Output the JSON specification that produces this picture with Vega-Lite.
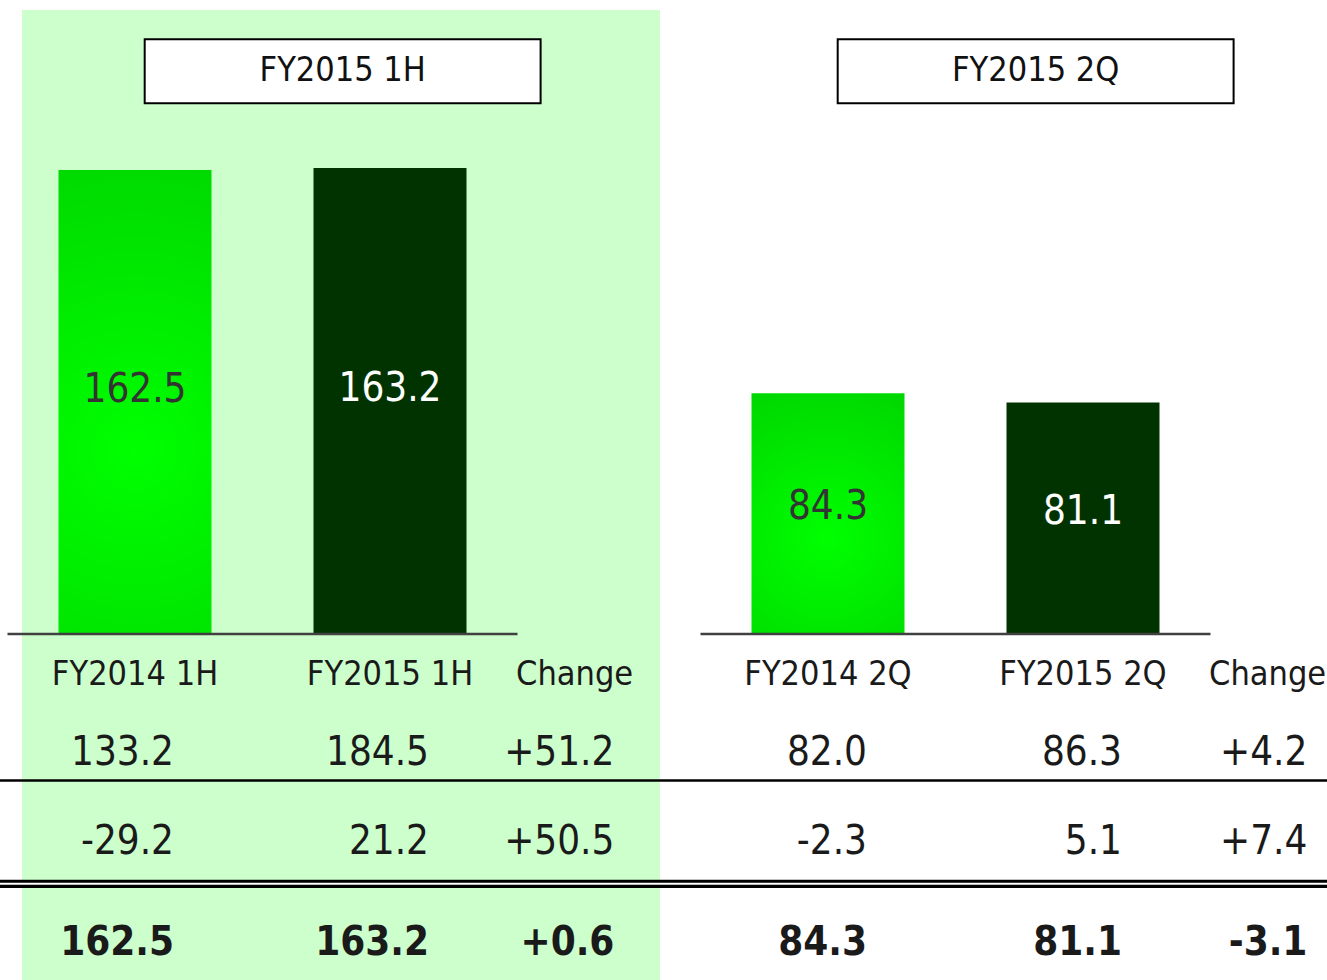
{
  "$schema": "https://vega.github.io/schema/vega-lite/v6.json",
  "width": 1327,
  "height": 980,
  "autosize": {"type": "fit", "contains": "padding"},
  "padding": 0,
  "background": "white",
  "config": {
    "view": {"stroke": null},
    "text": {"font": "DejaVu Sans Condensed, DejaVu Sans, sans-serif"}
  },
  "datasets": {
    "bars": [
      {"group": "1H", "col": "prev", "period": "FY2014 1H", "value": 162.5},
      {"group": "1H", "col": "curr", "period": "FY2015 1H", "value": 163.2},
      {"group": "2Q", "col": "prev", "period": "FY2014 2Q", "value": 84.3},
      {"group": "2Q", "col": "curr", "period": "FY2015 2Q", "value": 81.1}
    ],
    "heads": [
      {"group": "1H", "part": "head", "label": "FY2015 1H"},
      {"group": "2Q", "part": "head", "label": "FY2015 2Q"}
    ],
    "colheads": [
      {"group": "1H", "part": "cols", "col": "prev", "label": "FY2014 1H"},
      {"group": "1H", "part": "cols", "col": "curr", "label": "FY2015 1H"},
      {"group": "1H", "part": "cols", "col": "change", "label": "Change"},
      {"group": "2Q", "part": "cols", "col": "prev", "label": "FY2014 2Q"},
      {"group": "2Q", "part": "cols", "col": "curr", "label": "FY2015 2Q"},
      {"group": "2Q", "part": "cols", "col": "change", "label": "Change"}
    ],
    "table": [
      {"group": "1H", "part": "body", "row": "Row 1", "col": "prev", "label": "133.2"},
      {"group": "1H", "part": "body", "row": "Row 1", "col": "curr", "label": "184.5"},
      {"group": "1H", "part": "body", "row": "Row 1", "col": "change", "label": "+51.2"},
      {"group": "1H", "part": "body", "row": "Row 2", "col": "prev", "label": "-29.2"},
      {"group": "1H", "part": "body", "row": "Row 2", "col": "curr", "label": "21.2"},
      {"group": "1H", "part": "body", "row": "Row 2", "col": "change", "label": "+50.5"},
      {"group": "1H", "part": "body", "row": "Row 3", "col": "prev", "label": "162.5"},
      {"group": "1H", "part": "body", "row": "Row 3", "col": "curr", "label": "163.2"},
      {"group": "1H", "part": "body", "row": "Row 3", "col": "change", "label": "+0.6"},
      {"group": "2Q", "part": "body", "row": "Row 1", "col": "prev", "label": "82.0"},
      {"group": "2Q", "part": "body", "row": "Row 1", "col": "curr", "label": "86.3"},
      {"group": "2Q", "part": "body", "row": "Row 1", "col": "change", "label": "+4.2"},
      {"group": "2Q", "part": "body", "row": "Row 2", "col": "prev", "label": "-2.3"},
      {"group": "2Q", "part": "body", "row": "Row 2", "col": "curr", "label": "5.1"},
      {"group": "2Q", "part": "body", "row": "Row 2", "col": "change", "label": "+7.4"},
      {"group": "2Q", "part": "body", "row": "Row 3", "col": "prev", "label": "84.3"},
      {"group": "2Q", "part": "body", "row": "Row 3", "col": "curr", "label": "81.1"},
      {"group": "2Q", "part": "body", "row": "Row 3", "col": "change", "label": "-3.1"}
    ],
    "rows": [
      {"part": "body", "row": "Row 1"},
      {"part": "body", "row": "Row 2"},
      {"part": "body", "row": "Row 3"}
    ]
  },
  "resolve": {"scale": {"y": "independent"}},
  "layer": [
    {
      "data": {"name": "heads"},
      "transform": [{"filter": "datum.group === '1H'"}],
      "mark": {"type": "rect", "fill": "#ccffcc", "yOffset": 10},
      "encoding": {
        "x": {"field": "group", "type": "nominal", "axis": null, "bandPosition": 0.02843,
          "scale": {"domain": ["1H", "2Q"], "paddingInner": 0.26407, "paddingOuter": 0.089466, "align": 0.0605, "round": false}},
        "x2": {"field": "group", "bandPosition": 1.2794}
      }
    },
    {
      "layer": [
        {
          "data": {"name": "bars"},
          "transform": [{"filter": "datum.col === 'prev'"}],
          "mark": {"type": "bar", "fill": {"gradient": "radial", "x1": 0.5, "y1": 0.6, "r1": 0, "x2": 0.5, "y2": 0.6, "r2": 0.75,
            "stops": [{"offset": 0, "color": "#00ff00"}, {"offset": 1, "color": "#00d200"}]}},
          "encoding": {
            "x": {"field": "group", "type": "nominal", "axis": null,
              "scale": {"domain": ["1H", "2Q"], "paddingInner": 0.26407, "paddingOuter": 0.089466, "align": 0.0605, "round": false}},
            "xOffset": {"field": "col", "type": "nominal", "scale": {"domain": ["prev", "curr"], "paddingInner": 0.4, "paddingOuter": 0.2}},
            "y": {"field": "value", "type": "quantitative", "axis": null, "scale": {"domain": [-121.19, 222.07], "nice": false, "zero": false}}
          }
        },
        {
          "data": {"name": "bars"},
          "transform": [{"filter": "datum.col === 'curr'"}],
          "mark": {"type": "bar", "fill": "#003300"},
          "encoding": {
            "x": {"field": "group", "type": "nominal", "axis": null,
              "scale": {"domain": ["1H", "2Q"], "paddingInner": 0.26407, "paddingOuter": 0.089466, "align": 0.0605, "round": false}},
            "xOffset": {"field": "col", "type": "nominal", "scale": {"domain": ["prev", "curr"], "paddingInner": 0.4, "paddingOuter": 0.2}},
            "y": {"field": "value", "type": "quantitative", "axis": null, "scale": {"domain": [-121.19, 222.07], "nice": false, "zero": false}}
          }
        },
        {
          "data": {"name": "heads"},
          "mark": {"type": "rule", "stroke": "#404040", "strokeWidth": 2.5},
          "encoding": {
            "x": {"field": "group", "type": "nominal", "axis": null, "bandPosition": 0,
              "scale": {"domain": ["1H", "2Q"], "paddingInner": 0.26407, "paddingOuter": 0.089466, "align": 0.0605, "round": false}},
            "x2": {"field": "group", "bandPosition": 1},
            "y": {"datum": 0, "type": "quantitative", "axis": null, "scale": {"domain": [-121.19, 222.07], "nice": false, "zero": false}}
          }
        }
      ]
    },
    {
      "data": {"name": "bars"},
      "mark": {"type": "text", "fontSize": 40, "baseline": "middle", "align": "center"},
      "encoding": {
        "x": {"field": "group", "type": "nominal", "axis": null,
          "scale": {"domain": ["1H", "2Q"], "paddingInner": 0.26407, "paddingOuter": 0.089466, "align": 0.0605, "round": false}},
        "xOffset": {"field": "col", "type": "nominal", "scale": {"domain": ["prev", "curr"], "paddingInner": 0.4, "paddingOuter": 0.2}},
        "y": {"field": "value", "type": "quantitative", "axis": null, "scale": {"domain": [-230.26, 421.93], "nice": false, "zero": false}},
        "text": {"field": "value", "type": "quantitative", "format": ".1f"},
        "color": {"condition": {"test": "datum.col === 'curr'", "value": "#ffffff"}, "value": "#333333"}
      }
    },
    {
      "layer": [
        {
          "data": {"name": "heads"},
          "mark": {"type": "rect", "fill": "#ffffff", "stroke": "#000000", "strokeWidth": 2},
          "encoding": {
            "x": {"field": "group", "type": "nominal", "axis": null, "bandPosition": 0.269,
              "scale": {"domain": ["1H", "2Q"], "paddingInner": 0.26407, "paddingOuter": 0.089466, "align": 0.0605, "round": false}},
            "x2": {"field": "group", "bandPosition": 1.0453},
            "y": {"field": "part", "type": "nominal", "axis": null,
              "scale": {"domain": ["head", "cols"], "paddingInner": 0.8939, "paddingOuter": 0.25928, "align": 0.12564, "round": false}}
          }
        },
        {
          "data": {"name": "heads"},
          "mark": {"type": "text", "fontSize": 34, "baseline": "middle", "align": "center", "color": "#111111"},
          "encoding": {
            "x": {"field": "group", "type": "nominal", "axis": null, "bandPosition": 0.6572,
              "scale": {"domain": ["1H", "2Q"], "paddingInner": 0.26407, "paddingOuter": 0.089466, "align": 0.0605, "round": false}},
            "y": {"field": "part", "type": "nominal", "axis": null,
              "scale": {"domain": ["head", "cols"], "paddingInner": 0.8939, "paddingOuter": 0.25928, "align": 0.12564, "round": false}},
            "text": {"field": "label"}
          }
        },
        {
          "data": {"name": "colheads"},
          "transform": [{"filter": "datum.col !== 'change'"}],
          "mark": {"type": "text", "fontSize": 34, "baseline": "middle", "align": "center", "color": "#1a1a1a"},
          "encoding": {
            "x": {"field": "group", "type": "nominal", "axis": null,
              "scale": {"domain": ["1H", "2Q"], "paddingInner": 0.26407, "paddingOuter": 0.089466, "align": 0.0605, "round": false}},
            "xOffset": {"field": "col", "type": "nominal", "scale": {"domain": ["prev", "curr"], "paddingInner": 0.4, "paddingOuter": 0.2}},
            "y": {"field": "part", "type": "nominal", "axis": null,
              "scale": {"domain": ["head", "cols"], "paddingInner": 0.8939, "paddingOuter": 0.25928, "align": 0.12564, "round": false}},
            "text": {"field": "label"}
          }
        },
        {
          "data": {"name": "colheads"},
          "transform": [{"filter": "datum.col === 'change'"}],
          "mark": {"type": "text", "fontSize": 34, "baseline": "middle", "align": "center", "color": "#1a1a1a"},
          "encoding": {
            "x": {"field": "group", "type": "nominal", "axis": null, "bandPosition": 1.112,
              "scale": {"domain": ["1H", "2Q"], "paddingInner": 0.26407, "paddingOuter": 0.089466, "align": 0.0605, "round": false}},
            "y": {"field": "part", "type": "nominal", "axis": null,
              "scale": {"domain": ["head", "cols"], "paddingInner": 0.8939, "paddingOuter": 0.25928, "align": 0.12564, "round": false}},
            "text": {"field": "label"}
          }
        }
      ]
    },
    {
      "layer": [
        {
          "data": {"name": "rows"},
          "transform": [{"filter": "datum.row === 'Row 1'"}],
          "mark": {"type": "rect", "fill": "#000000"},
          "encoding": {
            "y": {"field": "part", "type": "nominal", "axis": null, "bandPosition": 0.41994,
              "scale": {"domain": ["body"], "paddingInner": 0, "paddingOuter": 0.9162, "align": 1, "round": false}},
            "y2": {"field": "part", "bandPosition": 0.42688}
          }
        },
        {
          "data": {"name": "rows"},
          "transform": [{"filter": "datum.row === 'Row 2'"}],
          "mark": {"type": "rect", "fill": "#000000"},
          "encoding": {
            "y": {"field": "part", "type": "nominal", "axis": null, "bandPosition": 0.71012,
              "scale": {"domain": ["body"], "paddingInner": 0, "paddingOuter": 0.9162, "align": 1, "round": false}},
            "y2": {"field": "part", "bandPosition": 0.7341}
          }
        },
        {
          "data": {"name": "rows"},
          "transform": [{"filter": "datum.row === 'Row 2'"}],
          "mark": {"type": "rect", "fill": "#ffffff"},
          "encoding": {
            "y": {"field": "part", "type": "nominal", "axis": null, "bandPosition": 0.71879,
              "scale": {"domain": ["body"], "paddingInner": 0, "paddingOuter": 0.9162, "align": 1, "round": false}},
            "y2": {"field": "part", "bandPosition": 0.72457}
          }
        },
        {
          "data": {"name": "table"},
          "transform": [{"filter": "datum.row === 'Row 1' && datum.col !== 'change'"}],
          "mark": {"type": "text", "fontSize": 40, "baseline": "middle", "align": "right", "dx": 39, "color": "#1a1a1a"},
          "encoding": {
            "x": {"field": "group", "type": "nominal", "axis": null,
              "scale": {"domain": ["1H", "2Q"], "paddingInner": 0.26407, "paddingOuter": 0.089466, "align": 0.0605, "round": false}},
            "xOffset": {"field": "col", "type": "nominal", "scale": {"domain": ["prev", "curr"], "paddingInner": 0.4, "paddingOuter": 0.2}},
            "y": {"field": "part", "type": "nominal", "axis": null, "bandPosition": 0.3428,
              "scale": {"domain": ["body"], "paddingInner": 0, "paddingOuter": 0.9162, "align": 1, "round": false}},
            "text": {"field": "label"}
          }
        },
        {
          "data": {"name": "table"},
          "transform": [{"filter": "datum.row === 'Row 2' && datum.col !== 'change'"}],
          "mark": {"type": "text", "fontSize": 40, "baseline": "middle", "align": "right", "dx": 39, "color": "#1a1a1a"},
          "encoding": {
            "x": {"field": "group", "type": "nominal", "axis": null,
              "scale": {"domain": ["1H", "2Q"], "paddingInner": 0.26407, "paddingOuter": 0.089466, "align": 0.0605, "round": false}},
            "xOffset": {"field": "col", "type": "nominal", "scale": {"domain": ["prev", "curr"], "paddingInner": 0.4, "paddingOuter": 0.2}},
            "y": {"field": "part", "type": "nominal", "axis": null, "bandPosition": 0.6014,
              "scale": {"domain": ["body"], "paddingInner": 0, "paddingOuter": 0.9162, "align": 1, "round": false}},
            "text": {"field": "label"}
          }
        },
        {
          "data": {"name": "table"},
          "transform": [{"filter": "datum.row === 'Row 3' && datum.col !== 'change'"}],
          "mark": {"type": "text", "fontSize": 40, "fontWeight": "bold", "baseline": "middle", "align": "right", "dx": 39, "color": "#1a1a1a"},
          "encoding": {
            "x": {"field": "group", "type": "nominal", "axis": null,
              "scale": {"domain": ["1H", "2Q"], "paddingInner": 0.26407, "paddingOuter": 0.089466, "align": 0.0605, "round": false}},
            "xOffset": {"field": "col", "type": "nominal", "scale": {"domain": ["prev", "curr"], "paddingInner": 0.4, "paddingOuter": 0.2}},
            "y": {"field": "part", "type": "nominal", "axis": null, "bandPosition": 0.8933,
              "scale": {"domain": ["body"], "paddingInner": 0, "paddingOuter": 0.9162, "align": 1, "round": false}},
            "text": {"field": "label"}
          }
        },
        {
          "data": {"name": "table"},
          "transform": [{"filter": "datum.row === 'Row 1' && datum.col === 'change'"}],
          "mark": {"type": "text", "fontSize": 40, "baseline": "middle", "align": "right", "color": "#1a1a1a"},
          "encoding": {
            "x": {"field": "group", "type": "nominal", "axis": null, "bandPosition": 1.19,
              "scale": {"domain": ["1H", "2Q"], "paddingInner": 0.26407, "paddingOuter": 0.089466, "align": 0.0605, "round": false}},
            "y": {"field": "part", "type": "nominal", "axis": null, "bandPosition": 0.3428,
              "scale": {"domain": ["body"], "paddingInner": 0, "paddingOuter": 0.9162, "align": 1, "round": false}},
            "text": {"field": "label"}
          }
        },
        {
          "data": {"name": "table"},
          "transform": [{"filter": "datum.row === 'Row 2' && datum.col === 'change'"}],
          "mark": {"type": "text", "fontSize": 40, "baseline": "middle", "align": "right", "color": "#1a1a1a"},
          "encoding": {
            "x": {"field": "group", "type": "nominal", "axis": null, "bandPosition": 1.19,
              "scale": {"domain": ["1H", "2Q"], "paddingInner": 0.26407, "paddingOuter": 0.089466, "align": 0.0605, "round": false}},
            "y": {"field": "part", "type": "nominal", "axis": null, "bandPosition": 0.6014,
              "scale": {"domain": ["body"], "paddingInner": 0, "paddingOuter": 0.9162, "align": 1, "round": false}},
            "text": {"field": "label"}
          }
        },
        {
          "data": {"name": "table"},
          "transform": [{"filter": "datum.row === 'Row 3' && datum.col === 'change'"}],
          "mark": {"type": "text", "fontSize": 40, "fontWeight": "bold", "baseline": "middle", "align": "right", "color": "#1a1a1a"},
          "encoding": {
            "x": {"field": "group", "type": "nominal", "axis": null, "bandPosition": 1.19,
              "scale": {"domain": ["1H", "2Q"], "paddingInner": 0.26407, "paddingOuter": 0.089466, "align": 0.0605, "round": false}},
            "y": {"field": "part", "type": "nominal", "axis": null, "bandPosition": 0.8933,
              "scale": {"domain": ["body"], "paddingInner": 0, "paddingOuter": 0.9162, "align": 1, "round": false}},
            "text": {"field": "label"}
          }
        }
      ]
    }
  ]
}
